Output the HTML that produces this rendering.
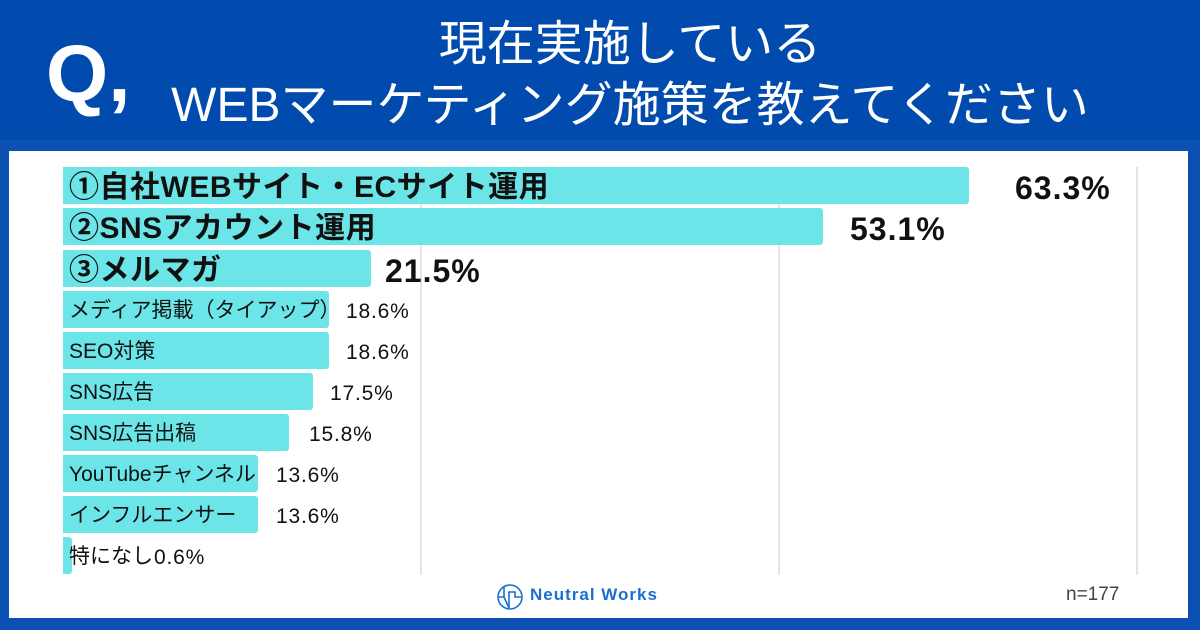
<!DOCTYPE html>
<html><head><meta charset="utf-8"><style>
*{margin:0;padding:0;box-sizing:border-box}
body{width:1200px;height:630px;background:#0c50b4;position:relative;overflow:hidden;font-family:"Liberation Sans","Noto Sans CJK JP",sans-serif}
.hdr{position:absolute;left:0;top:0;width:1200px;height:140px;background:#024bae}
.q{position:absolute;left:46px;top:34px;color:#fff;font-size:80px;font-weight:700;line-height:1}
.t{position:absolute;left:100px;width:1060px;text-align:center;color:#fff;font-size:48px;line-height:1;white-space:nowrap}
.panel{position:absolute;left:9px;top:151px;width:1179px;height:467px;background:#fff}
.grid{position:absolute;top:167px;width:2px;height:408px;background:#e4e4e4}
.bar{position:absolute;left:63px;height:37px;background:#6ce5e9;border-radius:0 3px 3px 0}
.lb{position:absolute;left:69px;color:#111;white-space:nowrap;line-height:1}
.v{position:absolute;color:#111;white-space:nowrap;line-height:1}
.big{font-size:30px;font-weight:700;letter-spacing:0.5px}
.bv{font-size:32px;font-weight:700;letter-spacing:1px}
.sm{font-size:21px}
.sv{font-size:21px;letter-spacing:0.8px}
</style></head><body>
<div class="hdr"></div>
<div class="q">Q,</div>
<div class="t" style="top:21px">現在実施している</div>
<div class="t" style="top:82px">WEBマーケティング施策を教えてください</div>
<div class="panel"></div>
<div class="grid" style="left:420px"></div>
<div class="grid" style="left:778px"></div>
<div class="grid" style="left:1136px"></div>

<div class="bar" style="top:167px;width:906px"></div>
<div class="lb big" style="top:173px">①自社WEBサイト・ECサイト運用</div>
<div class="v bv" style="left:1015px;top:172px">63.3%</div>

<div class="bar" style="top:208px;width:760px"></div>
<div class="lb big" style="top:214px">②SNSアカウント運用</div>
<div class="v bv" style="left:850px;top:213px">53.1%</div>

<div class="bar" style="top:250px;width:308px"></div>
<div class="lb big" style="top:256px">③メルマガ</div>
<div class="v bv" style="left:385px;top:255px">21.5%</div>

<div class="bar" style="top:291px;width:266px"></div>
<div class="lb sm" style="top:300px">メディア掲載（タイアップ）</div>
<div class="v sv" style="left:346px;top:301px">18.6%</div>

<div class="bar" style="top:332px;width:266px"></div>
<div class="lb sm" style="top:341px">SEO対策</div>
<div class="v sv" style="left:346px;top:342px">18.6%</div>

<div class="bar" style="top:373px;width:250px"></div>
<div class="lb sm" style="top:382px">SNS広告</div>
<div class="v sv" style="left:330px;top:383px">17.5%</div>

<div class="bar" style="top:414px;width:226px"></div>
<div class="lb sm" style="top:423px">SNS広告出稿</div>
<div class="v sv" style="left:309px;top:424px">15.8%</div>

<div class="bar" style="top:455px;width:195px"></div>
<div class="lb sm" style="top:464px">YouTubeチャンネル</div>
<div class="v sv" style="left:276px;top:465px">13.6%</div>

<div class="bar" style="top:496px;width:195px"></div>
<div class="lb sm" style="top:505px">インフルエンサー</div>
<div class="v sv" style="left:276px;top:506px">13.6%</div>

<div class="bar" style="top:537px;width:9px"></div>
<div class="lb sm" style="top:546px">特になし</div>
<div class="v sv" style="left:154px;top:547px">0.6%</div>

<svg style="position:absolute;left:496px;top:582px" width="28" height="30" viewBox="0 0 28 30">
<circle cx="14" cy="15" r="12" fill="none" stroke="#1a6fd0" stroke-width="1.6"/>
<path d="M3 15 H8 V4 M8 15 L13 26 V10 H19 V15 H25" fill="none" stroke="#1a6fd0" stroke-width="1.6"/>
</svg>
<div style="position:absolute;left:530px;top:585px;font-size:17px;font-weight:700;color:#1a6fd0;letter-spacing:1px">Neutral Works</div>
<div style="position:absolute;left:1066px;top:584px;font-size:19px;color:#444">n=177</div>
</body></html>
